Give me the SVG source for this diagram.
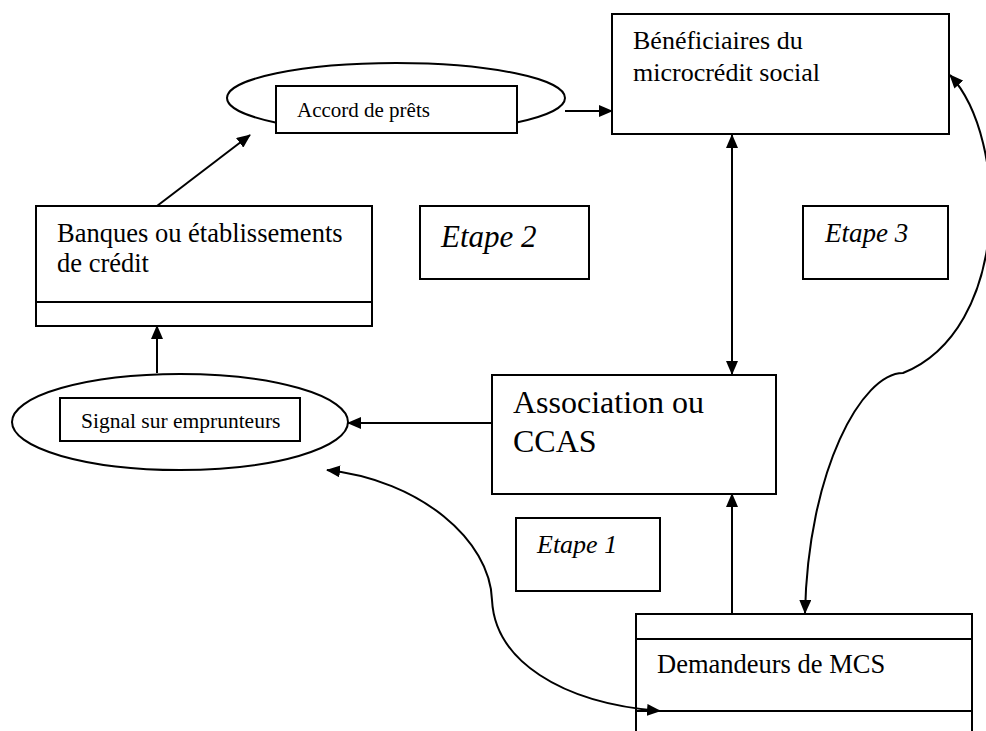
<svg xmlns="http://www.w3.org/2000/svg" width="986" height="731" viewBox="0 0 986 731">
<style>
.box{fill:#fff;stroke:#000;stroke-width:2}
.ln{fill:none;stroke:#000;stroke-width:2}
.t{font-family:"Liberation Serif","Times New Roman",serif;fill:#000}
.i{font-style:italic}
</style>
<defs>
<marker id="ah" markerUnits="userSpaceOnUse" markerWidth="14" markerHeight="12" refX="13" refY="6" orient="auto-start-reverse" viewBox="0 0 14 12">
<path d="M0,0 L14,6 L0,12 z" fill="#000"/>
</marker>
</defs>
<rect width="986" height="731" fill="#fff"/>
<g id="accord">
<ellipse class="box" cx="396" cy="98" rx="169" ry="35"/>
<rect class="box" x="276" y="86" width="241" height="47"/>
<text class="t" x="297" y="117" font-size="21">Accord de prêts</text>
</g>
<g id="beneficiaires">
<rect class="box" x="612" y="14" width="337" height="120"/>
<text class="t" x="633" y="49" font-size="26">Bénéficiaires du</text>
<text class="t" x="633" y="81" font-size="26">microcrédit social</text>
</g>
<g id="banques">
<rect class="box" x="36" y="206" width="336" height="120"/>
<line class="ln" x1="36" y1="302" x2="372" y2="302"/>
<text class="t" x="57" y="242" font-size="26.5">Banques ou établissements</text>
<text class="t" x="57" y="272" font-size="26.5">de crédit</text>
</g>
<g id="etape2">
<rect class="box" x="420" y="206" width="169" height="73"/>
<text class="t i" x="441" y="247" font-size="31">Etape 2</text>
</g>
<g id="etape3">
<rect class="box" x="803" y="206" width="145" height="73"/>
<text class="t i" x="825" y="242" font-size="27">Etape 3</text>
</g>
<g id="signal">
<ellipse class="box" cx="180" cy="422" rx="168" ry="48"/>
<rect class="box" x="60" y="398" width="240" height="43"/>
<text class="t" x="81" y="428" font-size="21.5">Signal sur emprunteurs</text>
</g>
<g id="association">
<rect class="box" x="492" y="375" width="284" height="119"/>
<text class="t" x="513" y="413" font-size="32">Association ou</text>
<text class="t" x="513" y="452" font-size="32">CCAS</text>
</g>
<g id="etape1">
<rect class="box" x="516" y="518" width="144" height="73"/>
<text class="t i" x="537" y="553" font-size="26">Etape 1</text>
</g>
<g id="demandeurs">
<rect class="box" x="636" y="614" width="336" height="130"/>
<line class="ln" x1="636" y1="639" x2="972" y2="639"/>
<line class="ln" x1="636" y1="711" x2="972" y2="711"/>
<text class="t" x="657" y="673" font-size="26.5">Demandeurs de MCS</text>
</g>
<g id="connectors">
<line class="ln" x1="565" y1="111" x2="612" y2="111" marker-end="url(#ah)"/>
<line class="ln" x1="157" y1="206" x2="250" y2="135" marker-end="url(#ah)"/>
<line class="ln" x1="157" y1="373" x2="157" y2="326" marker-end="url(#ah)"/>
<line class="ln" x1="492" y1="423" x2="348" y2="423" marker-end="url(#ah)"/>
<line class="ln" x1="732" y1="135" x2="732" y2="374" marker-start="url(#ah)" marker-end="url(#ah)"/>
<line class="ln" x1="732" y1="614" x2="732" y2="494" marker-end="url(#ah)"/>
<path class="ln" d="M327 470 C420 480 490 540 492 600 C495 660 560 703 660 711" marker-start="url(#ah)" marker-end="url(#ah)"/>
<path class="ln" d="M950 75 C1010 140 1010 330 903 373 C862 373 808 470 805 613" marker-start="url(#ah)" marker-end="url(#ah)"/>
</g>
</svg>
